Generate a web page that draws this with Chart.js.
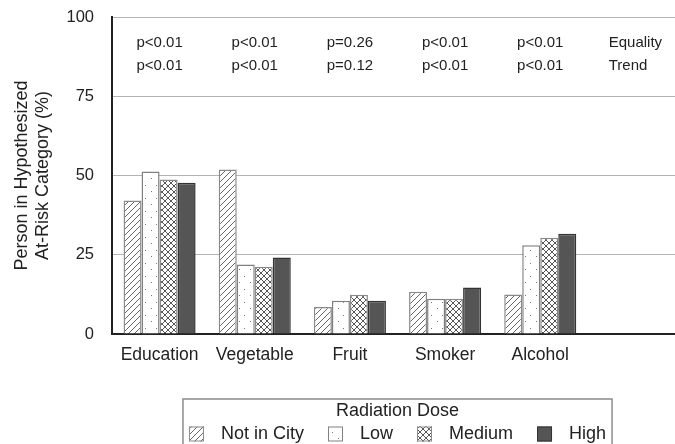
<!DOCTYPE html>
<html><head><meta charset="utf-8">
<script src="https://cdn.jsdelivr.net/npm/chart.js@4.4.0/dist/chart.umd.min.js"></script>
<style>
html,body{margin:0;padding:0;overflow:hidden;background:#fff;width:675px;height:444px}
#wrap{width:700px;height:444px}
canvas{display:block}
</style></head>
<body><div id="wrap"><canvas id="c" width="700" height="444"></canvas></div>
<script>
const categories = ['Education','Vegetable','Fruit','Smoker','Alcohol',''];
const notInCity = [42.1, 51.9, 8.5, 13.3, 12.5, null];
const low = [51.3, 21.9, 10.5, 11.1, 28.0, null];
const medium = [48.7, 21.2, 12.4, 11.1, 30.4, null];
const high = [47.7, 24.1, 10.5, 14.7, 31.6, null];
const equalityP = ['p<0.01','p<0.01','p=0.26','p<0.01','p<0.01','Equality'];
const trendP = ['p<0.01','p<0.01','p=0.12','p<0.01','p<0.01','Trend'];
const seriesNames = ['Not in City','Low','Medium','High'];
const yTicks = [0,25,50,75,100];
const legendTitle = 'Radiation Dose';
const yTitle = ['Person in Hypothesized','At-Risk Category (%)'];

const FONT = '"Liberation Sans", Arial, Helvetica, sans-serif';

function makeTile(kind){
  const c = document.createElement('canvas');
  const s = 6;
  if (kind === 'dots'){ c.width = 11; c.height = 13; } else { c.width = s; c.height = s; }
  const x = c.getContext('2d');
  x.fillStyle = '#fff'; x.fillRect(0,0,c.width,c.height);
  if (kind === 'hatch' || kind === 'cross'){
    x.strokeStyle = kind === 'hatch' ? '#555' : '#444';
    x.lineWidth = 0.9;
    x.beginPath();
    x.moveTo(-1,s+1); x.lineTo(s+1,-1);
    x.moveTo(-1,1); x.lineTo(1,-1);
    x.moveTo(s-1,s+1); x.lineTo(s+1,s-1);
    if (kind === 'cross'){
      x.moveTo(-1,-1); x.lineTo(s+1,s+1);
      x.moveTo(s-1,-1); x.lineTo(s+1,1);
      x.moveTo(-1,s-1); x.lineTo(1,s+1);
    }
    x.stroke();
  } else if (kind === 'dots'){
    x.fillStyle = '#777';
    x.fillRect(2,3,1,1);
    x.fillRect(8,9,1,1);
  }
  return c;
}
function pat(kind){
  const ctx2 = document.createElement('canvas').getContext('2d');
  return ctx2.createPattern(makeTile(kind),'repeat');
}

const fills = [pat('hatch'), pat('dots'), pat('cross'), '#555555'];
const borders = ['#8a8a8a', '#808080', '#8a8a8a', '#333333'];
const seriesData = [notInCity, low, medium, high];

const pPlugin = {
  id: 'pvals',
  afterDatasetsDraw(ch){
    const c = ch.ctx, xs = ch.scales.x, a = ch.chartArea;
    c.save();
    c.font = '15px ' + FONT;
    c.fillStyle = '#222';
    c.textBaseline = 'middle';
    const rows = [equalityP, trendP];
    const ys = [a.top + 26, a.top + 49];
    categories.forEach((_, i) => {
      const cx = xs.getPixelForValue(i);
      if (i === categories.length - 1){
        const w = Math.max(c.measureText(equalityP[i]).width, c.measureText(trendP[i]).width);
        c.textAlign = 'left';
        rows.forEach((r, k) => c.fillText(r[i], cx - w/2, ys[k]));
      } else {
        c.textAlign = 'center';
        rows.forEach((r, k) => c.fillText(r[i], cx, ys[k]));
      }
    });
    c.restore();
  }
};

const legendPlugin = {
  id: 'doseLegend',
  afterDraw(ch){
    const c = ch.ctx, a = ch.chartArea;
    c.save();
    c.font = '18px ' + FONT;
    const box = 15, gapText = 17, gapItem = 24;
    const ds = ch.data.datasets;
    const widths = ds.map(d => box + gapText + c.measureText(d.label).width);
    const total = widths.reduce((s, w) => s + w, 0) + gapItem * (ds.length - 1);
    const cx = (a.left + a.right) / 2;
    let x = cx - total / 2;
    const borderTop = a.bottom + 65, titleY = a.bottom + 77, rowY = a.bottom + 100;
    c.strokeStyle = '#8c8c8c'; c.lineWidth = 1.5;
    c.strokeRect(x - 6, borderTop, total + 12, 90);
    c.fillStyle = '#222'; c.textAlign = 'center'; c.textBaseline = 'middle';
    c.fillText(legendTitle, cx, titleY);
    c.textAlign = 'left';
    ds.forEach((d, i) => {
      c.fillStyle = d.backgroundColor;
      c.fillRect(x, rowY - box/2, box, box);
      c.strokeStyle = d.borderColor; c.lineWidth = 1;
      c.strokeRect(x + 0.5, rowY - box/2 + 0.5, box - 1, box - 1);
      c.fillStyle = '#222';
      c.fillText(d.label, x + box + gapText, rowY);
      x += widths[i] + gapItem;
    });
    c.restore();
  }
};

new Chart(document.getElementById('c'), {
  type: 'bar',
  data: {
    labels: categories,
    datasets: seriesNames.map((n, i) => ({
      label: n,
      data: seriesData[i],
      backgroundColor: fills[i],
      borderColor: borders[i],
      borderWidth: 1.5
    }))
  },
  options: {
    responsive: false,
    animation: false,
    devicePixelRatio: 1,
    layout: { padding: { top: 17, right: 17, bottom: 70, left: 0 } },
    datasets: { bar: { categoryPercentage: 0.757, barPercentage: 1 } },
    plugins: { legend: { display: false }, tooltip: { enabled: false } },
    scales: {
      x: {
        grid: { display: false, drawTicks: false },
        border: { color: '#222', width: 2 },
        ticks: { color: '#222', font: { family: FONT, size: 17.5 }, padding: 11, maxRotation: 0, autoSkip: false },
        afterFit(s){ s.height = 40; s.paddingLeft = 0; s.paddingRight = 0; }
      },
      y: {
        min: 0, max: 100,
        afterBuildTicks(s){ s.ticks = yTicks.map(v => ({ value: v })); },
        grid: { color: '#b4b4b4', lineWidth: 1, drawTicks: false },
        border: { color: '#222', width: 2 },
        ticks: { color: '#222', font: { family: FONT, size: 16.5 }, padding: 18 },
        title: { display: true, text: yTitle, color: '#222', font: { family: FONT, size: 18 }, padding: { top: 11, bottom: 0 } },
        afterFit(s){ s.width = 112; s.paddingTop = 0; s.paddingBottom = 0; }
      }
    }
  },
  plugins: [pPlugin, legendPlugin]
});
</script>
</body></html>
